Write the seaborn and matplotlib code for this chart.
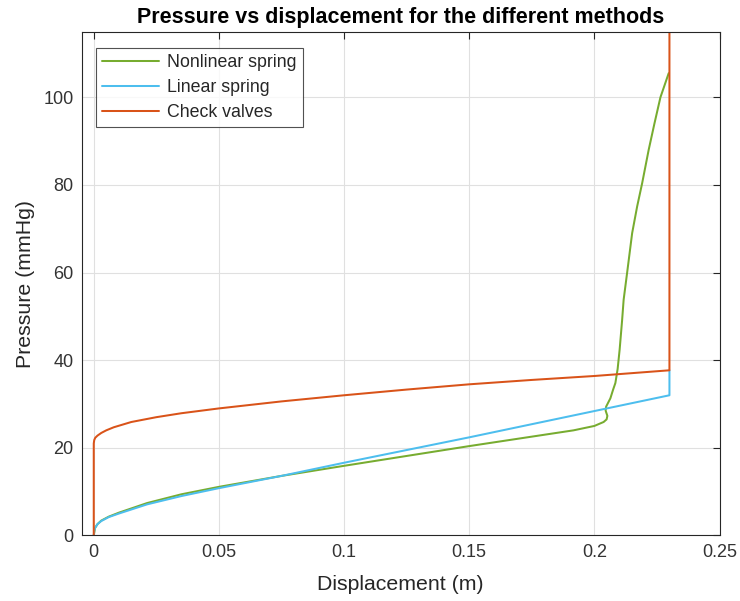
import numpy as np
import pandas as pd
import seaborn as sns
import matplotlib
matplotlib.use("Agg")
import matplotlib.pyplot as plt

# Displacement (m) / pressure (mmHg) samples for each method
nonlinear_x = [0, 0.0005, 0.0015, 0.003, 0.006, 0.01, 0.0213, 0.035, 0.05, 0.075,
               0.1, 0.15, 0.1917, 0.2, 0.2037, 0.2049, 0.2052, 0.2045, 0.2047, 0.2055,
               0.2064, 0.2075, 0.2084, 0.2093, 0.2101, 0.2111, 0.2117, 0.2131, 0.2151,
               0.2171, 0.2191, 0.2217, 0.2240, 0.2264, 0.2297]
nonlinear_p = [0, 1.7, 2.6, 3.4, 4.3, 5.2, 7.4, 9.4, 11.1, 13.6,
               15.9, 20.4, 24.0, 25.0, 25.9, 26.5, 27.3, 28.5, 29.4, 30.3,
               31.3, 33.3, 34.8, 38.0, 42.4, 49.2, 53.8, 60.0, 69.0,
               75.1, 80.4, 88.0, 94.0, 100.0, 105.5]

linear_x = [0, 0.0002, 0.0005, 0.0015, 0.003, 0.006, 0.01, 0.0213, 0.035, 0.05,
            0.075, 0.1, 0.15, 0.2, 0.23, 0.23]
linear_p = [0, 1.1, 1.7, 2.6, 3.3, 4.2, 5.0, 7.1, 9.0, 10.8,
            13.6, 16.6, 22.4, 28.4, 32.0, 37.7]

valves_x = [0, 0, 0.0002, 0.0006, 0.0015, 0.003, 0.005, 0.008, 0.015, 0.025,
            0.035, 0.05, 0.075, 0.1, 0.125, 0.15, 0.175, 0.2, 0.23, 0.23]
valves_p = [0, 21.0, 21.8, 22.3, 22.8, 23.4, 24.0, 24.7, 25.9, 27.0,
            27.9, 29.0, 30.6, 32.0, 33.3, 34.5, 35.5, 36.4, 37.7, 120.0]

methods = ["Nonlinear spring", "Linear spring", "Check valves"]
colors = ["#77AC30", "#4DBEEE", "#D95319"]

frames = []
for name, xs, ps in zip(methods,
                        [nonlinear_x, linear_x, valves_x],
                        [nonlinear_p, linear_p, valves_p]):
    frames.append(pd.DataFrame({"Displacement": xs, "Pressure": ps,
                                "Method": name, "order": np.arange(len(xs))}))
df = pd.concat(frames, ignore_index=True)

sns.set_theme(style="white")
plt.rcParams["font.family"] = ["Liberation Sans", "DejaVu Sans"]

fig = plt.figure(figsize=(7.4, 6.01), dpi=100)
ax = fig.add_axes([0.1108, 0.109, 0.8615, 0.837])

sns.lineplot(data=df, x="Displacement", y="Pressure", hue="Method",
             hue_order=methods, palette=colors, sort=False, estimator=None,
             units="Method", linewidth=1.45, ax=ax, legend=False)

ax.set_xlim(-0.0047, 0.25)
ax.set_ylim(0, 114.8)
ax.set_xticks([0, 0.05, 0.1, 0.15, 0.2, 0.25])
ax.set_xticklabels(["0", "0.05", "0.1", "0.15", "0.2", "0.25"])
ax.set_yticks([0, 20, 40, 60, 80, 100])

ax.grid(True, color="#e0e0e0", linewidth=0.8)
ax.set_axisbelow(True)
for s in ax.spines.values():
    s.set_visible(True)
    s.set_color("#262626")
    s.set_linewidth(0.8)
ax.tick_params(direction="in", length=5, width=0.8, colors="#262626",
               labelsize=13, top=True, right=True, pad=6)
for lbl in ax.get_xticklabels() + ax.get_yticklabels():
    lbl.set_color("#333333")

ax.set_xlabel("Displacement (m)", fontsize=15.3, color="#262626", labelpad=10)
ax.set_ylabel("Pressure (mmHg)", fontsize=15.3, color="#262626", labelpad=6)
ax.set_title("Pressure vs displacement for the different methods",
             fontsize=15.5, fontweight="bold", color="black", pad=7)

handles = [plt.Line2D([], [], color=c, linewidth=1.45) for c in colors]
leg = ax.legend(handles, methods, loc="upper left", fontsize=12.8,
                frameon=True, fancybox=False, edgecolor="#262626",
                handlelength=3.2, handletextpad=0.45, borderpad=0.35,
                labelspacing=0.45, borderaxespad=0,
                bbox_to_anchor=(0.022, 0.969))
leg.get_frame().set_linewidth(0.8)

fig.savefig("out.png", dpi=100, facecolor="white")
